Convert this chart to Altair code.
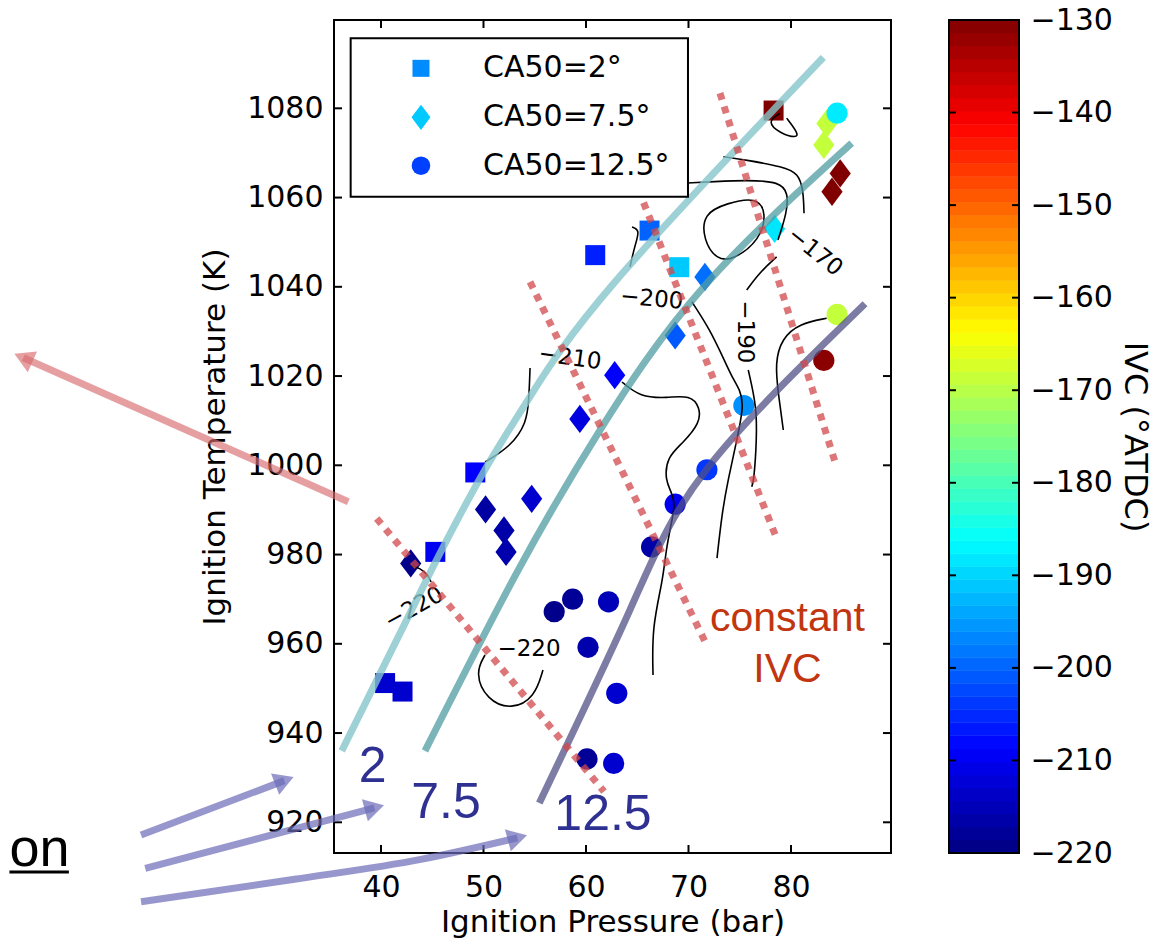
import altair as alt
import numpy as np
import pandas as pd

AX_FONT = "DejaVu Sans"
SLIDE_FONT = "Liberation Sans"

# ---------------- measured points ----------------
# CA50 = 2 deg (squares)
sq_pressure = [40.4, 42.1, 45.3, 49.2, 60.9, 66.2, 69.1, 78.3]
sq_temperature = [951.2, 949.3, 980.6, 998.4, 1047.1, 1052.6, 1044.4, 1079.5]
sq_ivc = [-213, -213, -210, -209, -206, -200, -191, -130]

# CA50 = 7.5 deg (diamonds)
di_pressure = [42.9, 50.2, 52.0, 52.2, 54.7, 59.4, 62.8, 68.7, 71.6, 78.4, 83.5, 83.2, 84.8, 84.0]
di_temperature = [978.0, 990.1, 985.4, 980.6, 992.5, 1010.4, 1020.2, 1029.1, 1042.2, 1053.0,
                  1076.6, 1071.8, 1065.4, 1061.3]
di_ivc = [-219, -217, -216.5, -216, -213, -211.5, -209, -201, -199, -188.5, -169, -169, -130, -130]

# CA50 = 12.5 deg (circles)
ci_pressure = [56.9, 58.7, 62.2, 60.2, 63.0, 60.1, 62.7, 66.4, 68.7, 71.8, 75.4, 83.2, 84.5, 84.5]
ci_temperature = [967.2, 970.0, 969.4, 959.2, 948.9, 934.2, 933.2, 981.7, 991.3, 999.0, 1013.4,
                  1023.5, 1078.9, 1033.8]
ci_ivc = [-219, -218, -215, -216, -213, -218, -213, -216.5, -210, -204, -196, -131, -188, -169]

legend_labels = ["CA50=2°", "CA50=7.5°", "CA50=12.5°"]
legend_ivc = [-196.5, -191, -203]

# ---------------- trend curves (constant CA50) ----------------
fit2_pressure = [36.17, 44.78, 50.31, 54.54, 62.83, 83.15]
fit2_temperature = [936.0, 975.9, 999.7, 1015.4, 1041.1, 1091.4]
fit75_pressure = [44.29, 53.24, 61.37, 71.41, 85.92]
fit75_temperature = [936.0, 975.9, 1007.9, 1039.8, 1072.2]
fit125_pressure = [55.44, 64.29, 71.80, 87.22]
fit125_temperature = [924.3, 967.6, 999.2, 1036.2]

# ---------------- constant IVC (dashed) ----------------
ivc_lines_pressure = [[39.58, 61.76], [54.54, 71.78], [64.61, 78.60], [73.07, 84.29]]
ivc_lines_temperature = [[988.1, 926.9], [1041.1, 959.7], [1064.7, 983.6], [1083.4, 1000.8]]

# ---------------- IVC contours ----------------
contour_paths = {
    "a": [(43.02, 977.43), (43.80, 976.98), (44.59, 975.41), (44.88, 973.84)],
    "b": [(50.15, 957.49), (49.17, 953.46), (50.31, 947.41), (52.75, 945.17), (55.02, 948.08),
          (55.80, 954.13)],
    "c": [(50.15, 1000.74), (52.59, 1004.1), (54.24, 1009.48), (54.44, 1015.3), (54.54, 1021.8)],
    "d": [(63.51, 1018.67), (65.27, 1015.31), (67.90, 1015.08), (70.15, 1015.76), (71.12, 1013.07),
          (71.12, 1009.48), (69.46, 1005.0), (67.90, 1001.86), (67.71, 996.71), (68.39, 993.79),
          (68.68, 991.1), (68.39, 987.74), (67.80, 981.02), (67.51, 974.3), (66.44, 963.77),
          (66.54, 953.0)],
    "e": [(64.49, 1053.4), (65.27, 1052.73), (64.78, 1049.37), (64.29, 1044.44)],
    "f": [(70.34, 1036.6), (72.10, 1030.4), (73.56, 1023.2), (74.24, 1019.8), (75.02, 1016.9),
          (75.41, 1013.6), (74.73, 1005.7), (73.85, 996.7), (73.27, 989.3), (72.78, 979.2)],
    "g1": [(78.6, 1046.7), (76.98, 1043.3), (75.68, 1039.3)],
    "g2": [(75.83, 1021.36), (76.65, 1013.13), (76.65, 1005.67), (76.39, 996.71), (76.17, 995.2)],
    "h": [(83.48, 1032.94), (80.88, 1031.82), (79.09, 1028.46), (78.44, 1022.86), (78.76, 1016.13),
          (79.25, 1007.91)],
    "i": [(78.93, 1078.9), (77.63, 1077.0), (78.93, 1074.4), (80.56, 1073.3), (80.71, 1074.4),
          (79.58, 1077.8)],
    "j": [(73.40, 1069.15), (75.68, 1068.4), (79.25, 1066.9), (80.71, 1065.4), (81.20, 1061.7),
          (81.27, 1056.5)],
    "k": [(69.95, 1063.26), (72.42, 1063.55), (75.68, 1063.93), (78.93, 1063.55), (79.74, 1060.95),
          (79.58, 1056.47), (78.73, 1050.5)],
}
contour_loop = [(71.44, 1056.47), (73.73, 1058.71), (76.65, 1060.19), (77.63, 1056.47), (76.98, 1050.5),
                (74.37, 1046.0), (72.75, 1046.0), (71.44, 1050.5)]

contour_label_text = ["\u2212220", "\u2212220", "\u2212210", "\u2212200", "\u2212190", "\u2212170"]
contour_label_pressure = [43.22, 54.44, 58.44, 66.41, 75.51, 82.34]
contour_label_temperature = [968.0, 958.9, 1024.05, 1037.27, 1029.9, 1047.87]
contour_label_angle = [331, 0, 8, 5, 90, 39]

x_ticks = [40, 50, 60, 70, 80]
y_ticks = [920, 940, 960, 980, 1000, 1020, 1040, 1060, 1080]
cbar_ticks = [-220, -210, -200, -190, -180, -170, -160, -150, -140, -130]

# ---------------- scales / axes ----------------
W, H = 557, 833
xs = alt.Scale(domain=[35.415, 89.756], nice=False, zero=False)
ys = alt.Scale(domain=[913.12, 1099.79], nice=False, zero=False)
jet = alt.Scale(domain=[-220, -208.75, -186.25, -163.75, -141.25, -130],
                range=["#000080", "#0000ff", "#00ffff", "#ffff00", "#ff0000", "#800000"],
                interpolate="rgb")

x_axis = alt.Axis(values=x_ticks, format="d", ticks=False, domain=False, grid=False,
                  labelFont=AX_FONT, labelFontSize=30, labelPadding=19, labelFlush=False,
                  labelOverlap=False, labelColor="black", title="Ignition Pressure (bar)",
                  titleFont=AX_FONT, titleFontSize=31, titleFontWeight="normal",
                  titleColor="black", titleBaseline="alphabetic", titleY=78)
y_axis = alt.Axis(values=y_ticks, format="d", ticks=False, domain=False, grid=False,
                  labelFont=AX_FONT, labelFontSize=30, labelPadding=11, labelOverlap=False,
                  labelColor="black", title="Ignition Temperature (K)", titleFont=AX_FONT,
                  titleFontSize=31, titleFontWeight="normal", titleColor="black", titleAngle=270,
                  titleBaseline="alphabetic", titleX=-110)


def X(field="p"):
    return alt.X(f"{field}:Q", scale=xs, axis=x_axis, title="Ignition Pressure (bar)")


def Y(field="t"):
    return alt.Y(f"{field}:Q", scale=ys, axis=y_axis, title="Ignition Temperature (K)")


diamond_path = "M-0.75,0L0,-1L0.75,0L0,1Z"


def points(pres, temp, ivc, shape, size):
    df = pd.DataFrame({"p": pres, "t": temp, "ivc": ivc})
    return alt.Chart(df).mark_point(filled=True, shape=shape, size=size, opacity=1,
                                    strokeWidth=0).encode(
        x=X(), y=Y(), color=alt.Color("ivc:Q", scale=jet, legend=None))


squares = points(sq_pressure, sq_temperature, sq_ivc, "square", 400)
diamonds = points(di_pressure, di_temperature, di_ivc, diamond_path, 800)
circles = points(ci_pressure, ci_temperature, ci_ivc, "circle", 450)

# contours
rows = []
for cid, pts in contour_paths.items():
    for i, (p, t) in enumerate(pts):
        rows.append({"id": cid, "i": i, "p": p, "t": t})
contour_df = pd.DataFrame(rows)
contours = alt.Chart(contour_df).mark_line(color="black", strokeWidth=1.6,
                                          interpolate="basis").encode(
    x=X(), y=Y(), detail="id:N", order="i:Q")
loop_df = pd.DataFrame({"p": [p for p, _ in contour_loop], "t": [t for _, t in contour_loop],
                        "i": list(range(len(contour_loop)))})
loop = alt.Chart(loop_df).mark_line(color="black", strokeWidth=1.6,
                                    interpolate="basis-closed").encode(x=X(), y=Y(), order="i:Q")

clabel_df = pd.DataFrame({"p": contour_label_pressure, "t": contour_label_temperature,
                          "txt": contour_label_text, "ang": contour_label_angle})
clabels = alt.Chart(clabel_df).mark_text(font=AX_FONT, fontSize=23, color="black",
                                         align="center", baseline="middle").encode(
    x=X(), y=Y(), text="txt:N", angle=alt.Angle("ang:Q", scale=None))


def curve(pres, temp, color, opacity):
    df = pd.DataFrame({"p": pres, "t": temp})
    return alt.Chart(df).mark_line(color=color, opacity=opacity, strokeWidth=7,
                                   interpolate="natural", strokeCap="butt").encode(x=X(), y=Y())


fit2 = curve(fit2_pressure, fit2_temperature, "#86c5ca", 0.8)
fit75 = curve(fit75_pressure, fit75_temperature, "#4f9ca2", 0.75)
fit125 = curve(fit125_pressure, fit125_temperature, "#505085", 0.75)

rows = []
for k, (ps, ts) in enumerate(zip(ivc_lines_pressure, ivc_lines_temperature)):
    for i, (p, t) in enumerate(zip(ps, ts)):
        rows.append({"id": k, "i": i, "p": p, "t": t})
ivc_df = pd.DataFrame(rows)
ivc_lines = alt.Chart(ivc_df).mark_line(color="#d0484b", opacity=0.75, strokeWidth=7,
                                        strokeDash=[7, 7], strokeCap="butt").encode(
    x=X(), y=Y(), detail="id:N", order="i:Q")

# legend (inside the plot)
legend_box = alt.Chart(pd.DataFrame({"p": [37.04], "p2": [69.95], "t": [1095.69],
                                     "t2": [1060.19]})).mark_rect(
    fill="white", stroke="black", strokeWidth=2).encode(
    x=X(), x2="p2:Q", y=Y(), y2="t2:Q")
leg_t = [1088.96, 1077.98, 1067.14]
leg_df = pd.DataFrame({"p": [43.9] * 3, "t": leg_t, "ivc": legend_ivc, "lab": legend_labels})
leg_shapes = []
for idx, (shape, size) in enumerate([("square", 289), (diamond_path, 640), ("circle", 346)]):
    leg_shapes.append(alt.Chart(leg_df.iloc[[idx]]).mark_point(
        filled=True, shape=shape, size=size, opacity=1, strokeWidth=0).encode(
        x=X(), y=Y(), color=alt.Color("ivc:Q", scale=jet, legend=None)))
leg_text = alt.Chart(leg_df.assign(p2=49.95)).mark_text(
    font=AX_FONT, fontSize=30, align="left", baseline="middle", color="black").encode(
    x=X("p2"), y=Y(), text="lab:N")

# inward ticks on all sides
xt = pd.DataFrame({"p": x_ticks})
yt = pd.DataFrame({"t": y_ticks})
tick_style = dict(color="black", strokeWidth=2)
ticks = [
    alt.Chart(xt).mark_rule(**tick_style).encode(x=X(), y=alt.value(H), y2=alt.value(H - 8)),
    alt.Chart(xt).mark_rule(**tick_style).encode(x=X(), y=alt.value(0), y2=alt.value(8)),
    alt.Chart(yt).mark_rule(**tick_style).encode(y=Y(), x=alt.value(0), x2=alt.value(8)),
    alt.Chart(yt).mark_rule(**tick_style).encode(y=Y(), x=alt.value(W), x2=alt.value(W - 8)),
]

# annotations (slide overlay)
blue_arrow_df = pd.DataFrame({
    "id": [1, 1, 2, 2, 3, 3, 3, 3],
    "i": [0, 1, 0, 1, 0, 1, 2, 3],
    "p": [16.59, 30.57, 17.0, 39.36, 16.59, 31.57, 43.89, 53.31],
    "t": [917.15, 929.34, 909.7, 923.25, 902.2, 907.23, 911.7, 916.53],
})
blue_arrows = alt.Chart(blue_arrow_df).mark_line(color="#6b6bb8", opacity=0.7, strokeWidth=7,
                                                 interpolate="monotone").encode(
    x=X(), y=Y(), detail="id:N", order="i:Q")
blue_heads = alt.Chart(pd.DataFrame({"p": [30.57, 39.36, 53.31], "t": [929.34, 923.25, 916.53],
                                     "ang": [69, 75, 75]})).mark_point(
    shape="triangle-up", filled=True, size=520, color="#6b6bb8", opacity=0.7, strokeWidth=0).encode(
    x=X(), y=Y(), angle=alt.Angle("ang:Q", scale=None))
red_arrow = alt.Chart(pd.DataFrame({"p": [36.81, 5.11], "t": [991.84, 1024.09]})).mark_line(
    color="#d96b6e", opacity=0.65, strokeWidth=7).encode(x=X(), y=Y())
red_head = alt.Chart(pd.DataFrame({"p": [5.11], "t": [1024.09], "ang": [294]})).mark_point(
    shape="triangle-up", filled=True, size=520, color="#d96b6e", opacity=0.65, strokeWidth=0).encode(
    x=X(), y=Y(), angle=alt.Angle("ang:Q", scale=None))

ca50_text = alt.Chart(pd.DataFrame({"p": [39.18, 46.34, 61.66], "t": [929.1, 920.96, 918.3],
                                    "txt": ["2", "7.5", "12.5"]})).mark_text(
    font=SLIDE_FONT, fontSize=50, color="#2e3192", align="center", baseline="alphabetic").encode(
    x=X(), y=Y(), text="txt:N")
ivc_text = alt.Chart(pd.DataFrame({"p": [79.66, 79.66], "t": [962.93, 951.5],
                                   "txt": ["constant", "IVC"]})).mark_text(
    font=SLIDE_FONT, fontSize=41, color="#c1360f", align="center", baseline="alphabetic").encode(
    x=X(), y=Y(), text="txt:N")
on_text = alt.Chart(pd.DataFrame({"p": [3.75], "t": [910.21], "txt": ["on"]})).mark_text(
    font=SLIDE_FONT, fontSize=54, color="black", align="left", baseline="alphabetic").encode(
    x=X(), y=Y(), text="txt:N")
on_line = alt.Chart(pd.DataFrame({"p": [3.75], "p2": [9.55], "t": [908.86]})).mark_rule(
    color="black", strokeWidth=3).encode(x=X(), x2="p2:Q", y=Y())

main = alt.layer(
    squares, diamonds, circles, contours, loop, clabels, fit2, fit75, fit125, ivc_lines,
    legend_box, *leg_shapes, leg_text, *ticks, blue_arrows, blue_heads, red_arrow, red_head,
    ca50_text, ivc_text, on_text, on_line,
)

# ---------------- colorbar ----------------
edges = np.linspace(-220, -130, 65)
cb_df = pd.DataFrame({"lo": edges[:-1], "hi": edges[1:], "mid": (edges[:-1] + edges[1:]) / 2})
cbs = alt.Scale(domain=[-220, -130], nice=False, zero=False)
cb_axis = alt.Axis(orient="right", offset=128, values=cbar_ticks, ticks=False, domain=False,
                   grid=False, labelFont=AX_FONT, labelFontSize=30, labelPadding=11,
                   labelOverlap=False, labelColor="black", title="IVC (°ATDC)", titleFont=AX_FONT,
                   titleFontSize=32, titleFontWeight="normal", titleColor="black", titleAngle=90,
                   titleBaseline="alphabetic", titleX=105)


def CBY(field):
    return alt.Y(f"{field}:Q", scale=cbs, axis=cb_axis, title="IVC (°ATDC)")


cb_rect = alt.Chart(cb_df).mark_rect(strokeWidth=0.6).encode(
    x=alt.value(615), x2=alt.value(685),
    y=CBY("lo"), y2="hi:Q",
    color=alt.Color("mid:Q", scale=jet, legend=None),
    stroke=alt.Stroke("mid:Q", scale=jet, legend=None))
cbt = pd.DataFrame({"lo": cbar_ticks[1:-1]})
cb_tick_l = alt.Chart(cbt).mark_rule(color="black", strokeWidth=2).encode(
    y=CBY("lo"), x=alt.value(615), x2=alt.value(622))
cb_tick_r = alt.Chart(cbt).mark_rule(color="black", strokeWidth=2).encode(
    y=CBY("lo"), x=alt.value(685), x2=alt.value(678))
cb_frame = alt.Chart(pd.DataFrame({"a": [0]})).mark_rect(
    fillOpacity=0, stroke="black", strokeWidth=2).encode(
    x=alt.value(615), x2=alt.value(685), y=alt.value(0), y2=alt.value(H))
cbar = alt.layer(cb_rect, cb_tick_l, cb_tick_r, cb_frame)

chart = alt.layer(main, cbar).resolve_scale(y="independent").properties(
    width=W, height=H,
    autosize=alt.AutoSizeParams(type="none"),
    padding={"left": 326, "top": 12, "right": 264, "bottom": 86},
    background="white",
).configure_view(stroke="black", strokeWidth=2)

chart.save("out.html", embed_options={"renderer": "svg", "actions": False})
